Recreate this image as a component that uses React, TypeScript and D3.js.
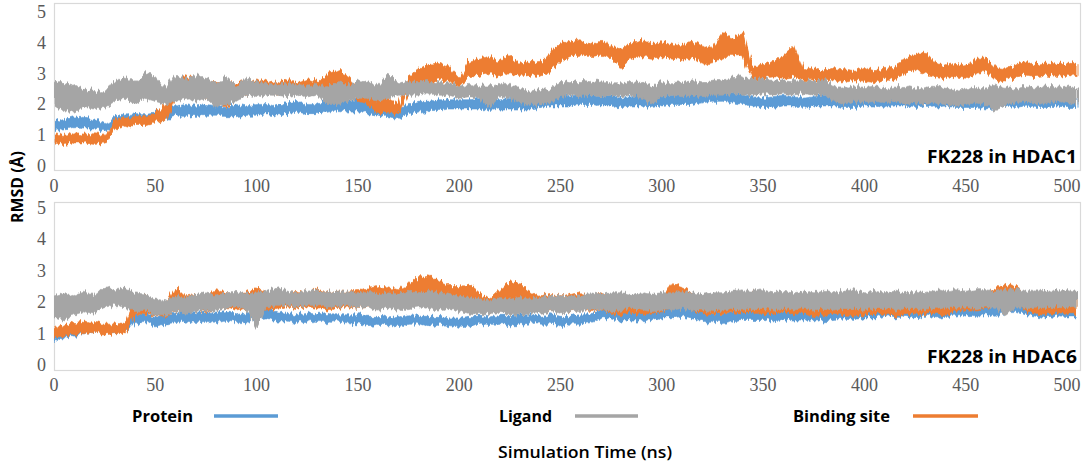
import React from 'react';
import * as d3 from 'd3';

// sampling times (ns), one envelope reading every 5 ns
const time = d3.range(0, 506, 5);

// ---- FK228 in HDAC1 (low / high envelope of each trace, Å) ----
const hdac1ProteinLo = [1.15,1.2,1.25,1.2,1.2,1.15,1.35,1.4,1.4,1.45,1.45,1.5,1.65,1.65,1.6,1.65,1.65,1.6,1.6,1.65,1.65,1.7,1.65,1.7,1.75,1.7,1.7,1.75,1.8,1.75,1.75,1.7,1.65,1.6,1.55,1.7,1.75,1.8,1.8,1.85,1.85,1.85,1.85,1.8,1.85,1.85,1.85,1.85,1.9,1.95,1.95,1.95,2.0,2.0,1.95,1.95,1.9,1.95,1.95,1.9,1.95,2.0,2.0,2.0,2.05,2.1,2.1,2.05,2.0,1.95,1.9,1.9,1.95,1.95,1.9,1.95,1.95,1.95,1.9,1.9,1.95,1.95,1.9,1.95,1.95,1.9,1.95,1.9,1.95,1.9,1.9,1.9,1.85,1.9,1.95,1.9,1.95,1.9,1.9,1.95,1.9,1.9];
const hdac1ProteinHi = [1.45,1.5,1.6,1.55,1.5,1.4,1.6,1.65,1.7,1.7,1.75,1.85,1.95,2.0,1.95,2.0,1.95,1.9,2.0,1.95,2.0,2.0,1.95,2.05,2.1,2.0,2.0,2.15,2.2,2.1,2.15,2.05,1.95,1.9,1.85,2.0,2.1,2.1,2.15,2.15,2.15,2.15,2.2,2.1,2.15,2.2,2.2,2.15,2.2,2.25,2.3,2.25,2.3,2.3,2.25,2.3,2.2,2.25,2.3,2.2,2.25,2.3,2.35,2.3,2.35,2.4,2.45,2.35,2.3,2.25,2.2,2.25,2.3,2.25,2.2,2.25,2.3,2.25,2.2,2.2,2.25,2.2,2.2,2.25,2.25,2.2,2.25,2.2,2.25,2.2,2.2,2.15,2.2,2.15,2.2,2.2,2.2,2.15,2.2,2.2,2.15,2.2];
const hdac1LigandLo = [1.9,1.8,1.75,1.9,1.85,1.9,2.1,2.2,2.0,2.2,2.1,2.0,2.1,2.2,2.1,2.2,1.9,2.0,2.1,2.3,2.25,2.3,2.3,2.25,2.3,2.25,2.3,2.0,2.0,2.1,2.2,2.2,2.1,2.2,2.3,2.3,2.3,2.35,2.3,2.3,2.2,2.25,2.2,1.9,2.25,2.2,2.05,2.0,2.0,2.05,2.25,2.3,2.25,2.3,2.25,2.3,2.25,2.3,2.2,2.0,2.25,2.3,2.25,2.3,2.25,2.3,2.3,2.35,2.3,2.3,2.35,2.3,2.35,2.3,2.35,2.3,2.3,2.1,2.0,2.1,2.05,2.1,2.05,2.1,2.0,2.05,2.0,2.05,2.0,1.95,2.0,2.05,2.0,1.8,2.0,2.05,2.1,2.0,2.05,2.1,2.05,2.0];
const hdac1LigandHi = [2.8,2.7,2.6,2.5,2.45,2.4,2.8,2.9,2.75,3.0,2.9,2.5,2.95,2.8,2.95,2.85,2.7,2.9,2.6,2.85,2.7,2.7,2.65,2.7,2.65,2.6,2.65,2.6,2.7,2.6,2.8,2.7,2.6,3.0,2.7,2.75,2.7,2.75,2.7,2.7,2.6,2.65,2.6,2.6,2.65,2.65,2.5,2.4,2.45,2.5,2.75,2.7,2.75,2.7,2.8,2.7,2.7,2.75,2.7,2.6,2.75,2.7,2.75,2.8,2.7,2.75,2.8,2.85,2.9,2.8,2.85,2.75,2.8,2.75,2.8,2.75,2.8,2.6,2.55,2.6,2.55,2.6,2.5,2.6,2.55,2.5,2.55,2.6,2.5,2.45,2.5,2.55,2.5,2.6,2.55,2.5,2.6,2.55,2.6,2.55,2.6,2.5];
const hdac1SiteLo = [0.75,0.7,0.75,0.75,0.7,0.75,1.2,1.25,1.35,1.35,1.4,1.5,2.2,2.3,2.25,2.2,2.1,1.9,2.2,2.3,2.35,2.35,2.3,2.4,2.35,2.3,2.4,2.6,2.55,2.3,2.1,2.0,1.7,1.75,1.7,2.4,2.6,2.7,2.8,2.75,2.6,2.9,2.95,3.0,2.9,3.0,2.9,2.95,2.9,3.1,3.4,3.55,3.6,3.55,3.6,3.5,3.2,3.5,3.55,3.5,3.55,3.5,3.45,3.55,3.3,3.35,3.5,3.6,3.55,2.8,2.85,2.9,2.85,2.9,2.8,2.8,2.75,2.8,2.75,2.8,2.75,2.7,2.8,2.85,3.0,3.1,3.05,2.85,2.8,2.9,2.85,3.0,3.05,2.75,2.8,2.9,2.95,2.9,2.95,2.9,2.95,2.9];
const hdac1SiteHi = [1.05,1.0,1.05,1.0,1.05,1.0,1.5,1.55,1.6,1.65,1.7,2.0,2.75,2.9,2.85,2.7,2.75,2.7,2.7,2.8,2.75,2.8,2.7,2.85,2.7,2.8,2.75,3.05,3.1,2.9,2.6,2.55,2.1,2.2,2.0,2.9,3.1,3.3,3.35,3.2,2.85,3.4,3.5,3.55,3.4,3.6,3.3,3.4,3.35,3.7,4.0,4.05,4.1,3.95,4.05,3.9,3.8,4.0,4.1,3.95,4.0,3.95,3.9,4.05,3.9,3.85,4.3,4.15,4.35,3.2,3.3,3.4,3.6,3.9,3.2,3.15,3.1,3.2,3.15,3.1,3.2,3.1,3.15,3.25,3.5,3.6,3.7,3.3,3.25,3.3,3.25,3.5,3.5,3.2,3.15,3.3,3.35,3.3,3.35,3.3,3.35,3.3];

// ---- FK228 in HDAC6 ----
const hdac6ProteinLo = [0.75,0.85,0.95,1.0,1.05,1.0,1.0,1.05,1.35,1.35,1.25,1.3,1.35,1.4,1.35,1.4,1.35,1.4,1.35,1.35,1.45,1.5,1.4,1.4,1.35,1.4,1.35,1.35,1.4,1.35,1.3,1.25,1.3,1.25,1.25,1.3,1.3,1.25,1.3,1.25,1.2,1.25,1.3,1.25,1.3,1.25,1.3,1.35,1.3,1.3,1.25,1.3,1.3,1.35,1.45,1.5,1.4,1.4,1.4,1.45,1.5,1.5,1.55,1.5,1.4,1.35,1.35,1.4,1.45,1.45,1.45,1.4,1.45,1.4,1.4,1.45,1.4,1.45,1.5,1.45,1.5,1.5,1.55,1.5,1.55,1.5,1.55,1.5,1.55,1.55,1.6,1.55,1.6,1.55,1.7,1.7,1.6,1.55,1.5,1.55,1.5,1.5];
const hdac6ProteinHi = [1.0,1.1,1.2,1.25,1.3,1.25,1.25,1.3,1.65,1.6,1.55,1.6,1.65,1.7,1.65,1.7,1.65,1.7,1.6,1.65,1.8,1.85,1.7,1.65,1.6,1.65,1.6,1.65,1.6,1.6,1.6,1.55,1.55,1.5,1.55,1.6,1.55,1.55,1.55,1.5,1.5,1.55,1.55,1.5,1.55,1.55,1.6,1.6,1.55,1.6,1.55,1.55,1.6,1.6,1.75,1.85,1.65,1.65,1.7,1.7,1.75,1.8,1.85,1.8,1.7,1.6,1.65,1.7,1.7,1.75,1.7,1.7,1.7,1.65,1.65,1.7,1.65,1.7,1.75,1.75,1.8,1.75,1.8,1.8,1.8,1.75,1.85,1.8,1.8,1.85,1.85,1.85,1.9,1.85,1.95,1.95,1.85,1.8,1.8,1.8,1.75,1.75];
const hdac6LigandLo = [1.5,1.4,1.6,1.7,1.65,1.85,1.9,1.85,1.7,1.75,1.6,1.6,1.7,1.65,1.7,1.75,1.7,1.8,1.85,1.8,1.2,1.85,1.9,1.9,1.85,1.9,1.9,1.85,1.85,1.9,1.8,1.85,1.75,1.8,1.75,1.8,1.85,1.8,1.75,1.8,1.7,1.65,1.6,1.6,1.65,1.6,1.6,1.65,1.65,1.7,1.65,1.7,1.7,1.75,1.75,1.7,1.75,1.8,1.75,1.7,1.75,1.75,1.8,1.75,1.75,1.7,1.75,1.8,1.75,1.8,1.8,1.75,1.8,1.75,1.8,1.75,1.8,1.75,1.8,1.8,1.75,1.8,1.8,1.75,1.8,1.8,1.75,1.8,1.85,1.8,1.85,1.8,1.85,1.8,1.6,1.85,1.8,1.85,1.8,1.85,1.8,1.85];
const hdac6LigandHi = [2.2,2.3,2.2,2.35,2.2,2.5,2.4,2.45,2.3,2.25,2.1,2.05,2.2,2.15,2.25,2.3,2.2,2.3,2.35,2.25,2.3,2.35,2.45,2.35,2.3,2.35,2.4,2.3,2.35,2.35,2.3,2.35,2.25,2.3,2.25,2.35,2.3,2.35,2.3,2.25,2.2,2.15,2.1,2.05,2.15,2.1,2.15,2.1,2.15,2.2,2.2,2.2,2.2,2.3,2.25,2.3,2.3,2.25,2.3,2.25,2.3,2.3,2.35,2.3,2.25,2.3,2.3,2.35,2.4,2.35,2.4,2.3,2.35,2.3,2.35,2.3,2.35,2.3,2.35,2.4,2.3,2.35,2.3,2.35,2.3,2.35,2.3,2.4,2.35,2.4,2.35,2.4,2.4,2.35,2.4,2.4,2.35,2.4,2.35,2.4,2.4,2.35];
const hdac6SiteLo = [0.85,0.9,1.0,1.0,1.05,0.95,1.0,1.0,1.65,1.6,1.6,1.55,1.7,1.7,1.75,1.7,1.75,1.8,1.75,1.8,1.7,1.75,1.8,1.85,1.8,1.85,1.8,1.75,1.8,1.85,1.8,1.85,1.9,1.85,1.9,2.0,2.2,2.2,2.1,2.0,1.95,1.9,1.75,1.6,1.8,1.9,1.9,1.75,1.7,1.7,1.75,1.7,1.75,1.7,1.75,1.65,1.6,1.65,1.6,1.65,1.7,1.8,1.85,1.75,1.65,1.6,1.65,1.7,1.65,1.7,1.6,1.65,1.7,1.6,1.65,1.55,1.6,1.65,1.6,1.55,1.6,1.65,1.6,1.55,1.6,1.65,1.6,1.65,1.6,1.7,1.75,1.75,1.8,1.9,2.0,1.95,1.7,1.65,1.6,1.65,1.6,1.6];
const hdac6SiteHi = [1.15,1.25,1.35,1.4,1.35,1.3,1.3,1.35,2.1,2.25,2.0,1.95,2.5,2.2,2.25,2.2,2.4,2.3,2.25,2.3,2.45,2.3,2.4,2.3,2.35,2.3,2.45,2.3,2.35,2.35,2.4,2.45,2.5,2.45,2.4,2.55,2.85,2.8,2.7,2.5,2.5,2.6,2.3,2.1,2.4,2.65,2.6,2.3,2.2,2.25,2.2,2.25,2.3,2.2,2.3,2.1,1.95,2.0,2.0,2.05,2.1,2.6,2.5,2.3,2.1,2.05,2.2,2.3,2.25,2.35,2.2,2.25,2.2,2.1,2.2,2.1,2.2,2.25,2.1,2.2,2.15,2.2,2.1,2.15,2.2,2.1,2.15,2.2,2.1,2.2,2.3,2.25,2.3,2.45,2.55,2.5,2.2,2.15,2.1,2.2,2.1,2.15];

const yTicks = [0, 1, 2, 3, 4, 5];
const xTicks = [0, 50, 100, 150, 200, 250, 300, 350, 400, 450, 500];

const COLORS = { protein: '#5b9bd5', ligand: '#a5a5a5', site: '#ed7d31' };

interface Panel {
  title: string;
  top: number;     // frame top
  bottom: number;  // frame bottom
  y0: number;      // pixel of value 0
  y5: number;      // pixel of value 5
  tickY: number;   // x tick label centre
  series: { lo: number[]; hi: number[]; color: string }[];
}

const panels: Panel[] = [
  {
    title: 'FK228 in HDAC1', top: 3, bottom: 170, y0: 166, y5: 12, tickY: 186,
    series: [
      { lo: hdac1ProteinLo, hi: hdac1ProteinHi, color: COLORS.protein },
      { lo: hdac1SiteLo, hi: hdac1SiteHi, color: COLORS.site },
      { lo: hdac1LigandLo, hi: hdac1LigandHi, color: COLORS.ligand },
    ],
  },
  {
    title: 'FK228 in HDAC6', top: 202, bottom: 370, y0: 365, y5: 208, tickY: 385,
    series: [
      { lo: hdac6ProteinLo, hi: hdac6ProteinHi, color: COLORS.protein },
      { lo: hdac6SiteLo, hi: hdac6SiteHi, color: COLORS.site },
      { lo: hdac6LigandLo, hi: hdac6LigandHi, color: COLORS.ligand },
    ],
  },
];

const legendItems = [
  { label: 'Protein', x: 132, w: 61, line: [214, 278], color: COLORS.protein },
  { label: 'Ligand', x: 499, w: 53, line: [575, 638], color: COLORS.ligand },
  { label: 'Binding site', x: 793, w: 97, line: [913, 978], color: COLORS.site },
];

const W = 1084;
const H = 464;
const left = 54;
const right = 1081;

const x = d3.scaleLinear().domain([0, 500]).range([54, 1067]);

const tickFont = '"Liberation Serif", "Times New Roman", serif';
const labelFont = '"Open Sans", "Noto Sans", sans-serif';

const PanelView: React.FC<{ p: Panel; idx: number }> = ({ p, idx }) => {
  const y = d3.scaleLinear().domain([0, 5]).range([p.y0, p.y5]);
  const clipId = `clip-${idx}`;
  return (
    <g>
      <defs>
        <clipPath id={clipId}>
          <rect x={left} y={p.top} width={right - left} height={p.bottom - p.top} />
        </clipPath>
      </defs>
      <rect x={left + 0.5} y={p.top + 0.5} width={right - left - 1} height={p.bottom - p.top}
        fill="#fff" stroke="#d9d9d9" strokeWidth={1.2} />
      <g clipPath={`url(#${clipId})`}>
        {p.series.map((s, i) => {
          const area = d3.area<number>()
            .x((_, j) => x(time[j]))
            .y0((_, j) => y(s.lo[j]))
            .y1((_, j) => y(s.hi[j]))
            .curve(d3.curveLinear);
          return (
            <path key={i} d={area(time) || ''} fill={s.color} stroke={s.color}
              strokeWidth={0.6} strokeLinejoin="bevel" filter="url(#jitter)" />
          );
        })}
      </g>
      {yTicks.map(t => (
        <text key={t} x={46} y={y(t)} textAnchor="end" dominantBaseline="central"
          fontFamily={tickFont} fontSize={18} fill="#595959">{t}</text>
      ))}
      {xTicks.map(t => (
        <text key={t} x={x(t)} y={p.tickY} textAnchor="middle" dominantBaseline="central"
          fontFamily={tickFont} fontSize={18} fill="#595959">{t}</text>
      ))}
      <text x={1077} y={p.bottom - 14} textAnchor="end" dominantBaseline="central"
        fontFamily={labelFont} fontWeight={700} fontSize={18} fill="#000"
        textLength={150} lengthAdjust="spacingAndGlyphs">{p.title}</text>
    </g>
  );
};

const App: React.FC = () => {
  return (
    <svg width={W} height={H} viewBox={`0 0 ${W} ${H}`}
      style={{ position: 'absolute', left: 0, top: 0, background: '#fff' }}>
      <defs>
        {/* roughens the band edges so they read like dense MD traces */}
        <filter id="jitter" x="-2%" y="-60%" width="104%" height="220%">
          <feTurbulence type="fractalNoise" baseFrequency="0.45 0.02" numOctaves={2} seed={3} result="n" />
          <feDisplacementMap in="SourceGraphic" in2="n" scale={9} xChannelSelector="R" yChannelSelector="G" />
        </filter>
      </defs>
      {panels.map((p, i) => <PanelView key={i} p={p} idx={i} />)}

      <text transform="translate(17,187) rotate(-90)" textAnchor="middle" dominantBaseline="central"
        fontFamily={labelFont} fontWeight={700} fontSize={16} fill="#000"
        textLength={72} lengthAdjust="spacingAndGlyphs">RMSD (Å)</text>

      {legendItems.map(l => (
        <g key={l.label}>
          <text x={l.x} y={416} dominantBaseline="central" fontFamily={labelFont}
            fontWeight={700} fontSize={16} fill="#000"
            textLength={l.w} lengthAdjust="spacingAndGlyphs">{l.label}</text>
          <line x1={l.line[0]} x2={l.line[1]} y1={416} y2={416} stroke={l.color} strokeWidth={3.5} />
        </g>
      ))}

      <text x={585} y={452} textAnchor="middle" dominantBaseline="central" fontFamily={labelFont}
        fontWeight={600} fontSize={16} fill="#000" textLength={174}
        lengthAdjust="spacingAndGlyphs">Simulation Time (ns)</text>
    </svg>
  );
};

export default App;
